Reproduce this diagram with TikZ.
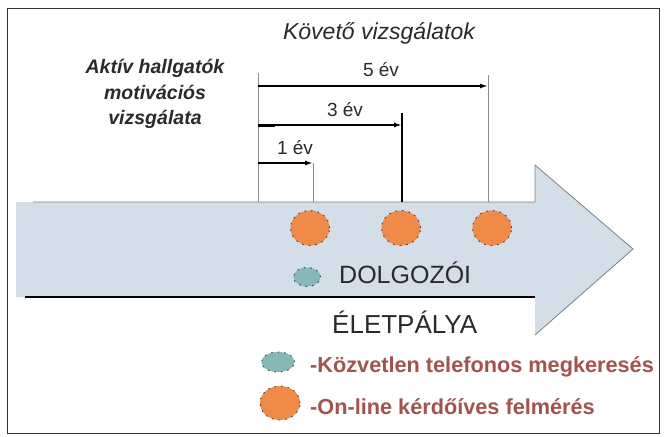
\documentclass[tikz,border=0pt]{standalone}
\usepackage{fontspec}
\setmainfont{Liberation Sans}
\usetikzlibrary{shapes.geometric,arrows.meta}
\definecolor{arrowfill}{HTML}{D3DEE8}
\definecolor{orng}{HTML}{EF8A48}
\definecolor{teal2}{HTML}{86B8B8}
\definecolor{legred}{HTML}{A3534F}
\definecolor{txtgray}{HTML}{2A2A2A}
\tikzset{
  dot/.style={ellipse, draw=black!75, line width=0.9pt, dash pattern=on 1.6pt off 5pt, inner sep=0pt},
  big/.style={dot, fill=orng, minimum width=39pt, minimum height=35pt},
  small/.style={dot, fill=teal2, minimum width=27pt, minimum height=19pt},
  guide/.style={draw=black!45, line width=0.6pt},
  span/.style={line width=1.8pt, -{Latex[length=8pt,width=5pt]}},
  lbl/.style={font=\fontsize{19}{21}\selectfont, text=txtgray, inner sep=0pt},
  leg/.style={font=\bfseries\fontsize{21.7}{24}\selectfont, text=legred, anchor=west, inner sep=0pt},
}
\begin{document}
\begin{tikzpicture}[x=1pt,y=-1pt]
\useasboundingbox (0,0) rectangle (666,436);
\fill[white] (0,0) rectangle (666,436);
\draw[black!80, line width=1pt] (7,9) rectangle (659,433);
% big arrow
\fill[arrowfill] (16,202) -- (535,202) -- (535,165) -- (633,249) -- (535,335) -- (535,297) -- (16,297) -- cycle;
\draw[black!50, line width=0.8pt] (33,202) -- (535,202) -- (535,165) -- (633,249) -- (535,335);
\draw[black, line width=1.8pt] (25,297) -- (535,297);
% titles
\node[font=\itshape\fontsize{23}{26}\selectfont, text=txtgray] (title) at (379,33) {Követő vizsgálatok};
\node[font=\bfseries\itshape\fontsize{19.5}{25.5}\selectfont, text=txtgray, align=center] (aktiv) at (155,94) {Aktív hallgatók\\motivációs\\vizsgálata};
% coordinates
\coordinate (s5) at (258,86);
\coordinate (s3) at (258,125);
\coordinate (s3b) at (275,125);
\coordinate (s1) at (258,163);
\coordinate (e5) at (488,86);
\coordinate (e3) at (402,125);
\coordinate (e1) at (313,163);
\coordinate (g0t) at (258,73);
\coordinate (g0b) at (258,202);
\coordinate (g5t) at (488,75);
\coordinate (g5b) at (488,202);
\coordinate (g3t) at (402,113);
\coordinate (g3b) at (402,202);
\coordinate (g1b) at (313,202);
\draw[guide] (g0t) -- (g0b);
\draw[guide] (g5t) -- (g5b);
\draw[guide] (e1) -- (g1b);
\draw[black, line width=2pt] (g3t) -- (g3b);
\draw[span] (s5) -- (e5);
\draw[span] (s3) -- (e3);
\draw[black, line width=3pt] (s3) -- (s3b);
\draw[span] (s1) -- (e1);
\node[lbl] (l5) at (381,70) {5 év};
\node[lbl] (l3) at (345,110) {3 év};
\node[lbl] (l1) at (295,148) {1 év};
% circles
\node[big] (c1) at (310,228) {};
\node[big] (c3) at (401,228) {};
\node[big] (c5) at (492,228) {};
\node[small] (t1) at (307,277) {};
\node[font=\fontsize{25}{28}\selectfont, text=txtgray, anchor=west, inner sep=0pt] (dolg) at (339,273) {DOLGOZÓI};
\node[font=\fontsize{26}{29}\selectfont, text=txtgray, anchor=west, inner sep=0pt] (elet) at (332,322) {ÉLETPÁLYA};
% legend
\node[small, minimum width=33pt, minimum height=20pt] (lt) at (278,362) {};
\node[big, minimum width=40pt, minimum height=34pt] (lo) at (280,403) {};
\node[leg] (ltx) at (310,367) {-Közvetlen telefonos megkeresés};
\node[leg] (lox) at (310,407) {-On-line kérdőíves felmérés};
\end{tikzpicture}
\end{document}
